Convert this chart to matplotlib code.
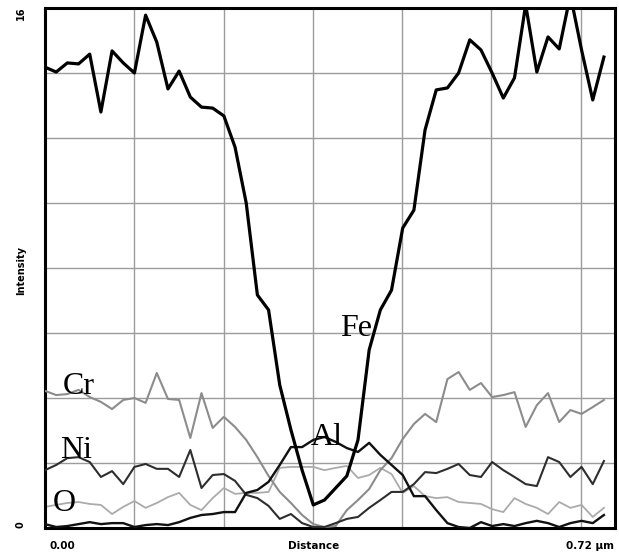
import numpy as np
import matplotlib
matplotlib.use("Agg")
import matplotlib.pyplot as plt

# ---- data ----
n_points = 51
x_end = 0.706            # last sample position in um
x_max = 0.72
grid_dx = 0.1128
y_max = 16

fe = [14.18, 14.03, 14.31, 14.28, 14.58, 12.80, 14.68, 14.31, 14.00, 15.78,
      14.95, 13.51, 14.06, 13.26, 12.95, 12.92, 12.68, 11.72, 10.00, 7.17,
      6.71, 4.40, 3.02, 1.78, 0.71, 0.86, 1.23, 1.60, 2.71, 5.48,
      6.71, 7.32, 9.23, 9.78, 12.25, 13.48, 13.54, 14.00, 15.02, 14.71,
      14.00, 13.23, 13.85, 16.10, 14.03, 15.11, 14.74, 16.40, 14.71, 13.17,
      14.49]

cr = [4.22, 4.09, 4.12, 4.25, 4.03, 3.88, 3.66, 3.94, 4.00, 3.85,
      4.77, 3.97, 3.94, 2.77, 4.15, 3.08, 3.42, 3.11, 2.71, 2.18,
      1.60, 1.11, 0.77, 0.40, 0.12, 0.03, 0.06, 0.55, 0.86, 1.20,
      1.78, 2.15, 2.74, 3.20, 3.51, 3.26, 4.58, 4.80, 4.25, 4.46,
      4.03, 4.09, 4.18, 3.11, 3.78, 4.15, 3.26, 3.63, 3.51, 3.72,
      3.94]

ni = [1.78, 1.94, 2.15, 2.18, 2.03, 1.57, 1.75, 1.35, 1.88, 1.97,
      1.82, 1.82, 1.57, 2.40, 1.23, 1.63, 1.66, 1.45, 1.02, 0.92,
      0.68, 0.28, 0.43, 0.15, 0.03, 0.03, 0.15, 0.28, 0.34, 0.62,
      0.86, 1.11, 1.11, 1.35, 1.72, 1.69, 1.82, 1.97, 1.63, 1.57,
      2.03, 1.78, 1.57, 1.35, 1.29, 2.18, 2.03, 1.57, 1.88, 1.35,
      2.06]

o = [0.65, 0.71, 0.77, 0.80, 0.74, 0.71, 0.43, 0.65, 0.83, 0.62,
     0.77, 0.95, 1.08, 0.71, 0.55, 0.92, 1.23, 1.05, 1.08, 1.08,
     1.11, 1.85, 1.88, 1.88, 1.88, 1.78, 1.85, 1.91, 1.54, 1.63,
     1.85, 1.66, 1.08, 1.29, 0.98, 0.92, 0.95, 0.80, 0.77, 0.74,
     0.58, 0.49, 0.92, 0.74, 0.62, 0.43, 0.80, 0.62, 0.71, 0.34,
     0.62]

al = [0.12, 0.03, 0.06, 0.12, 0.18, 0.12, 0.15, 0.15, 0.03, 0.09,
      0.12, 0.09, 0.18, 0.31, 0.40, 0.43, 0.49, 0.49, 1.08, 1.17,
      1.42, 1.94, 2.49, 2.49, 2.71, 2.80, 2.65, 2.46, 2.34, 2.62,
      2.25, 1.94, 1.63, 0.98, 0.98, 0.55, 0.15, 0.03, 0.00, 0.18,
      0.06, 0.12, 0.06, 0.15, 0.22, 0.15, 0.03, 0.15, 0.22, 0.15,
      0.40]

labels = ["Fe", "Cr", "Ni", "O", "Al"]
label_pos = {"Fe": (0.393, 6.15), "Cr": (0.043, 4.34), "Ni": (0.039, 2.4),
             "O": (0.024, 0.74), "Al": (0.356, 2.77)}

x = np.linspace(0, x_end, n_points)

W, H = 619, 553
fig = plt.figure(figsize=(W / 100, H / 100), dpi=100)
ax = fig.add_axes([45 / W, (H - 528) / H, 570 / W, 520 / H])

ax.set_xlim(0, x_max)
ax.set_ylim(0, y_max)

# grid
for k in range(1, 7):
    ax.axvline(k * grid_dx, color="#9c9c9c", lw=1.0, zorder=1)
for yy in range(2, y_max, 2):
    ax.axhline(yy, color="#9c9c9c", lw=1.0, zorder=1)

ax.plot(x, o, color="#ababab", lw=1.3, zorder=2)
ax.plot(x, cr, color="#8c8c8c", lw=1.5, zorder=3)
ax.plot(x, ni, color="#2e2e2e", lw=1.5, zorder=4)
ax.plot(x, al, color="#111111", lw=1.7, zorder=5)
ax.plot(x, fe, color="#000000", lw=2.3, zorder=6)

for name in labels:
    px, py = label_pos[name]
    ax.text(px, py, name, fontsize=23, family="Liberation Serif",
            ha="center", va="center", color="#000000", zorder=7)

ax.set_xticks([])
ax.set_yticks([])
for s in ax.spines.values():
    s.set_linewidth(2.2)
    s.set_color("black")

# axis texts
fig.text(62 / W, 1 - 546 / H, "0.00", ha="center", va="center",
         fontsize=7.5, fontweight="bold", family="DejaVu Sans")
fig.text(314 / W, 1 - 546 / H, "Distance", ha="center", va="center",
         fontsize=7.5, fontweight="bold", family="DejaVu Sans")
fig.text(614 / W, 1 - 546 / H, "0.72 µm", ha="right", va="center",
         fontsize=7.5, fontweight="bold", family="DejaVu Sans")
fig.text(21 / W, 1 - 13 / H, "16", ha="center", va="center", rotation=90,
         fontsize=7, fontweight="bold", family="DejaVu Sans")
fig.text(21 / W, 1 - 525 / H, "0", ha="center", va="center", rotation=90,
         fontsize=7, fontweight="bold", family="DejaVu Sans")
fig.text(21 / W, 1 - 270 / H, "Intensity", ha="center", va="center",
         rotation=90, fontsize=7, fontweight="bold", family="DejaVu Sans")

fig.savefig("out.png", dpi=100)
